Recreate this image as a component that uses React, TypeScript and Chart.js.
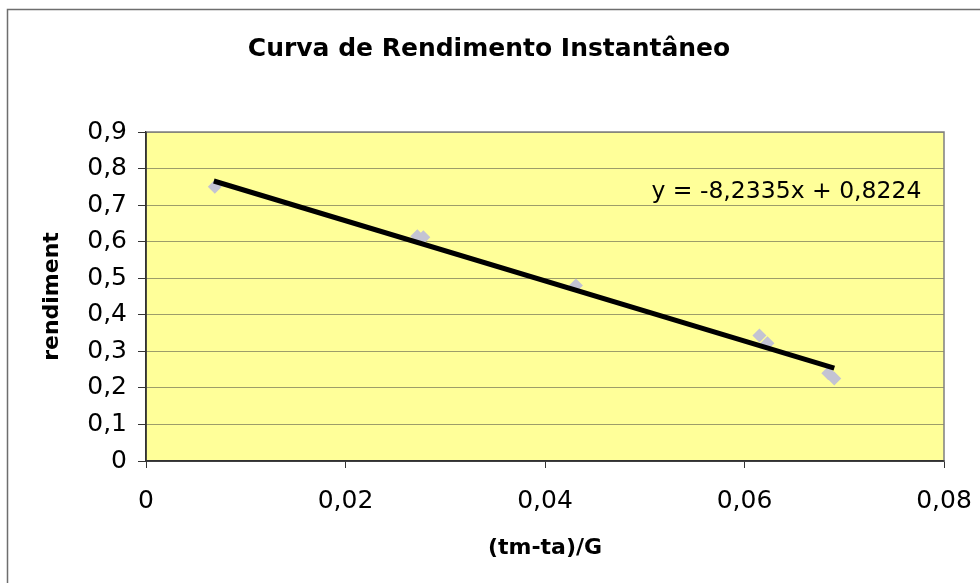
import React, { useEffect, useRef } from "react";
import { Chart, registerables } from "chart.js";

Chart.register(...registerables);

const chartTitle = "Curva de Rendimento Instantâneo";
const xAxisTitle = "(tm-ta)/G";
const yAxisTitle = "rendiment";

const pointX = [0.0069, 0.0272, 0.0278, 0.0431, 0.0615, 0.0623, 0.0684, 0.069];
const pointY = [0.75, 0.615, 0.612, 0.48, 0.343, 0.322, 0.24, 0.226];

const trendX = [0.0068, 0.069];
const trendY = [0.766, 0.254];

const equationText = "y = -8,2335x + 0,8224";
const equationAt = [0.0642, 0.736];

const xTickLabels = ["0", "0,02", "0,04", "0,06", "0,08"];
const yTickLabels = ["0", "0,1", "0,2", "0,3", "0,4", "0,5", "0,6", "0,7", "0,8", "0,9"];

const FONT = "'DejaVu Sans', 'Liberation Sans', Arial, sans-serif";

export default function App() {
  const ref = useRef<HTMLCanvasElement | null>(null);

  useEffect(() => {
    document.body.style.margin = "0";
    const canvas = ref.current;
    if (!canvas) return;

    const decor = {
      id: "decor",
      beforeDraw(chart: any) {
        const { ctx, chartArea: a } = chart;
        ctx.save();
        ctx.fillStyle = "#ffffff";
        ctx.fillRect(0, 0, chart.width, chart.height);
        ctx.strokeStyle = "#6e6e6e";
        ctx.lineWidth = 1.5;
        ctx.beginPath();
        ctx.moveTo(7.5, chart.height + 5);
        ctx.lineTo(7.5, 9.5);
        ctx.lineTo(chart.width + 5, 9.5);
        ctx.stroke();
        ctx.fillStyle = "#ffff99";
        ctx.fillRect(a.left, a.top, a.right - a.left, a.bottom - a.top);
        ctx.restore();
      },
      beforeDatasetsDraw(chart: any) {
        const { ctx, chartArea: a } = chart;
        ctx.save();
        ctx.setLineDash([]);
        ctx.strokeStyle = "#808080";
        ctx.lineWidth = 1.5;
        ctx.beginPath();
        ctx.moveTo(a.left, a.top);
        ctx.lineTo(a.right, a.top);
        ctx.lineTo(a.right, a.bottom);
        ctx.stroke();
        ctx.strokeStyle = "#333333";
        ctx.beginPath();
        ctx.moveTo(a.left, a.bottom);
        ctx.lineTo(a.right, a.bottom);
        ctx.moveTo(a.left, a.top);
        ctx.lineTo(a.left, a.bottom);
        ctx.stroke();
        ctx.restore();
      },
      afterDraw(chart: any) {
        const { ctx } = chart;
        ctx.save();
        ctx.fillStyle = "#000000";
        ctx.textAlign = "center";
        ctx.textBaseline = "middle";
        ctx.font = `bold 25px ${FONT}`;
        ctx.fillText(chartTitle, chart.width / 2 - 1, 49);
        const xs = chart.scales.x;
        const ys = chart.scales.y;
        ctx.font = `23.5px ${FONT}`;
        ctx.fillText(
          equationText,
          xs.getPixelForValue(equationAt[0]),
          ys.getPixelForValue(equationAt[1])
        );
        ctx.restore();
      },
    };

    const chart = new Chart(canvas, {
      type: "scatter",
      data: {
        datasets: [
          {
            type: "line",
            label: "trend",
            data: trendX.map((x, i) => ({ x, y: trendY[i] })),
            borderColor: "#000000",
            borderWidth: 5,
            pointRadius: 0,
            fill: false,
          } as any,
          {
            label: "dados",
            data: pointX.map((x, i) => ({ x, y: pointY[i] })),
            pointStyle: "rectRot",
            pointRadius: 7,
            backgroundColor: "#c3c3d3",
            borderColor: "#c3c3d3",
            borderWidth: 0,
          },
        ],
      },
      options: {
        responsive: false,
        animation: false,
        devicePixelRatio: 1,
        layout: { padding: { left: 0, right: 36, top: 132, bottom: 0 } },
        plugins: {
          legend: { display: false },
          title: { display: false },
          tooltip: { enabled: false },
        },
        scales: {
          x: {
            type: "linear",
            min: 0,
            max: 0.08,
            afterFit(scale: any) {
              scale.height = 122;
              scale.paddingLeft = 0;
              scale.paddingRight = 0;
            },
            ticks: {
              stepSize: 0.02,
              color: "#000000",
              font: { family: FONT, size: 25 },
              padding: 18,
              maxRotation: 0,
              callback: (_v: any, i: number) => xTickLabels[i],
            },
            grid: {
              drawOnChartArea: false,
              drawTicks: true,
              tickLength: 7,
              tickColor: "#333333",
              lineWidth: 1,
            },
            border: { display: true, color: "#333333", width: 1.5 },
            title: {
              display: true,
              text: xAxisTitle,
              color: "#000000",
              font: { family: FONT, size: 22, weight: "bold" },
              padding: { top: 0, bottom: 22 },
            },
          },
          y: {
            type: "linear",
            min: 0,
            max: 0.9,
            afterFit(scale: any) {
              scale.width = 146;
              scale.paddingTop = 0;
              scale.paddingBottom = 0;
            },
            ticks: {
              stepSize: 0.1,
              color: "#000000",
              font: { family: FONT, size: 25 },
              padding: 11,
              callback: (_v: any, i: number) => yTickLabels[i],
            },
            grid: {
              drawOnChartArea: true,
              drawTicks: true,
              tickLength: 8,
              color: "#3a3a3a",
              tickColor: "#333333",
              tickBorderDash: [],
              lineWidth: 1,
            } as any,
            border: { display: true, color: "#333333", width: 1.5, dash: [1, 1] },
            title: {
              display: true,
              text: yAxisTitle,
              color: "#000000",
              font: { family: FONT, size: 22, weight: "bold" },
              padding: { top: 39, bottom: 0 },
            },
          },
        },
      },
      plugins: [decor],
    });

    return () => {
      chart.destroy();
    };
  }, []);

  return (
    <div style={{ position: "fixed", left: 0, top: 0, width: 980, height: 583, background: "#fff" }}>
      <canvas ref={ref} width={980} height={583} style={{ display: "block" }} />
    </div>
  );
}
